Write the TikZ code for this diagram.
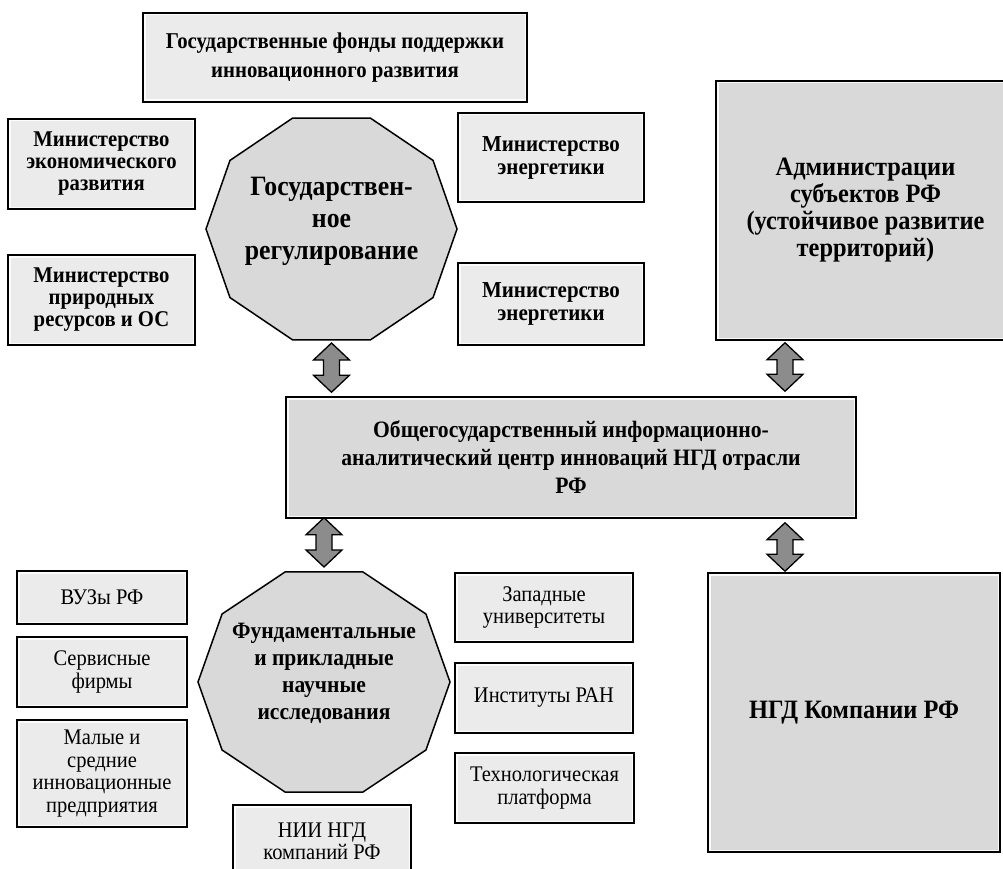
\documentclass[tikz,border=0pt]{standalone}
\usepackage{fontspec}
\setmainfont{Liberation Serif}[FakeStretch=0.92]
\usetikzlibrary{calc}
\definecolor{boxlight}{HTML}{EBEBEB}
\definecolor{boxdark}{HTML}{D9D9D9}
\definecolor{arrowgray}{HTML}{8C8C8C}
\newcommand\dblarr[2]{\draw[darr] (#1) -- ++(18,17) -- ++(-10,0) -- ($(#2)+(8,-17)$) -- ++(10,0) -- (#2) -- ++(-18,-17) -- ++(10,0) -- ($(#1)+(-8,17)$) -- ++(-10,0) -- cycle;}
\begin{document}
\begin{tikzpicture}[x=1pt,y=-1pt,
  glow/.style={path picture={\draw[white,line width=5pt,opacity=0.85] (path picture bounding box.north west) rectangle (path picture bounding box.south east);}},
  box/.style={draw=black, line width=1.5pt, fill=boxlight, align=center, inner sep=0pt, glow},
  bigbox/.style={box, fill=boxdark},
  oct/.style={draw=black, line width=1.5pt, fill=boxdark, line join=miter},
  darr/.style={draw=black, line width=1.3pt, fill=arrowgray, line join=miter},
  fb/.style={font=\fontsize{22.5}{22}\selectfont\bfseries},
  fr/.style={font=\fontsize{22.3}{22.5}\selectfont},
  txt/.style={align=center, inner sep=0pt}
]
\path[use as bounding box] (0,0) rectangle (1003,869);
\clip (0,0) rectangle (1003,869);
\fill[white] (0,0) rectangle (1003,869);

% top boxes
\node[box, minimum width=384, minimum height=89, font=\fontsize{22.6}{29}\selectfont\bfseries] (fonds) at (335,57.5)
  {Государственные фонды поддержки\\инновационного развития};
\node[box, fb, minimum width=187, minimum height=90] (minec) at (101.5,164)
  {Министерство\\экономического\\развития};
\node[box, fb, minimum width=187, minimum height=90] (minpr) at (101.5,300)
  {Министерство\\природных\\ресурсов и ОС};
\node[box, minimum width=186, minimum height=89, font=\fontsize{22.8}{23}\selectfont\bfseries] (mine1) at (551,157.5)
  {Министерство\\энергетики};
\node[box, minimum width=186, minimum height=82, font=\fontsize{22.8}{23}\selectfont\bfseries] (mine2) at (551,304)
  {Министерство\\энергетики};
\node[bigbox, minimum width=299, minimum height=259, font=\fontsize{26.5}{27}\selectfont\bfseries] (admin) at (865.5,210.5)
  {Администрации\\субъектов РФ\\(устойчивое развитие\\территорий)};

% octagon 1
\draw[oct, shift={(331.5,229)}] (0:125.5 and 116.7) \foreach \a in {36,72,...,324} { -- (\a:125.5 and 116.7) } -- cycle;
\node[txt, font=\fontsize{28}{32}\selectfont\bfseries] (gov) at (331.5,221)
  {Государствен-\\ное\\регулирование};
\coordinate (o1s) at (331.5,340);

% center
\node[bigbox, minimum width=570, minimum height=121, font=\fontsize{23.5}{28}\selectfont\bfseries] (center) at (571,457.5)
  {Общегосударственный информационно-\\аналитический центр инноваций НГД отрасли\\РФ};

% octagon 2
\draw[oct, shift={(324,682)}] (0:126 and 115.7) \foreach \a in {36,72,...,324} { -- (\a:126 and 115.7) } -- cycle;
\node[txt, font=\fontsize{23.4}{27}\selectfont\bfseries] (fund) at (324,673)
  {Фундаментальные\\и прикладные\\научные\\исследования};
\coordinate (o2n) at (324,572);

% bottom boxes
\node[box, fr, minimum width=170, minimum height=53] (vuz) at (102,597.5) {ВУЗы РФ};
\node[box, fr, minimum width=170, minimum height=70] (serv) at (102,672) {Сервисные\\фирмы};
\node[box, fr, minimum width=170, minimum height=107] (mal) at (102,773.5) {Малые и\\средние\\инновационные\\предприятия};
\node[box, minimum width=178, minimum height=75] (nii) at (322,842.5) {};
\node[txt, fr] (niit) at (322,841.5) {НИИ НГД\\компаний РФ};
\node[box, fr, minimum width=178, minimum height=69] (zap) at (544,607.5) {Западные\\университеты};
\node[box, fr, minimum width=178, minimum height=70] (inst) at (544,698) {Институты РАН};
\node[box, fr, minimum width=179, minimum height=70] (tech) at (544.5,788) {Технологическая\\платформа};
\node[bigbox, minimum width=292, minimum height=279, font=\fontsize{26.5}{27}\selectfont\bfseries] (ngd) at (854,712.5) {НГД Компании РФ};

% arrows
\coordinate (x2) at (785,0);
\coordinate (a1t) at ($(o1s)+(0,3)$);
\coordinate (a1b) at ($(center.north -| o1s)+(0,-4)$);
\dblarr{a1t}{a1b}
\coordinate (a2t) at ($(admin.south -| x2)+(0,2)$);
\coordinate (a2b) at ($(center.north -| x2)+(0,-5)$);
\dblarr{a2t}{a2b}
\coordinate (a3t) at ($(center.south -| o2n)+(0,-1)$);
\coordinate (a3b) at ($(o2n)+(0,-5)$);
\dblarr{a3t}{a3b}
\coordinate (a4t) at ($(center.south -| x2)+(0,4)$);
\coordinate (a4b) at ($(ngd.north -| x2)+(0,-1)$);
\dblarr{a4t}{a4b}
\end{tikzpicture}
\end{document}
